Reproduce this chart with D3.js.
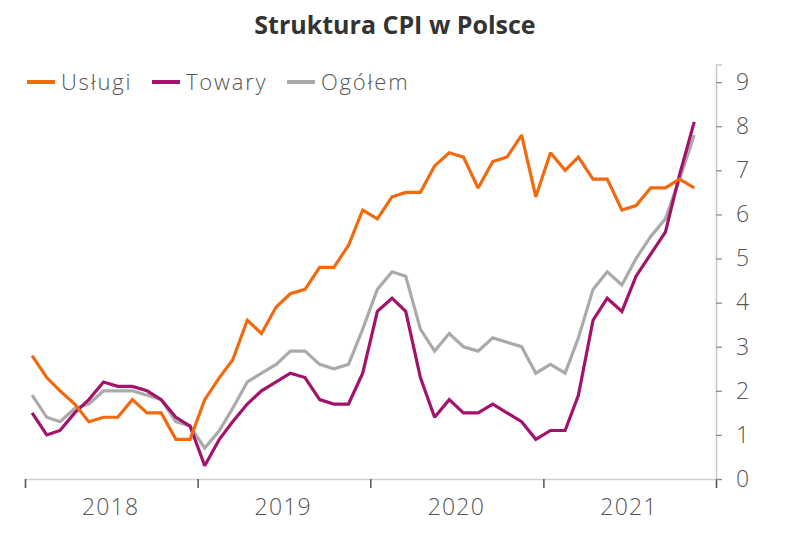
<!DOCTYPE html>
<html><head><meta charset="utf-8">
<script src="https://cdn.jsdelivr.net/npm/d3@7/dist/d3.min.js"></script>
<style>
body{margin:0;background:#fff;}
svg{display:block;}
</style></head>
<body>
<svg id="chart" width="788" height="536"></svg>
<script>
const title = "Struktura CPI w Polsce";
const months = ["2018-01","2018-02","2018-03","2018-04","2018-05","2018-06","2018-07","2018-08","2018-09","2018-10","2018-11","2018-12",
"2019-01","2019-02","2019-03","2019-04","2019-05","2019-06","2019-07","2019-08","2019-09","2019-10","2019-11","2019-12",
"2020-01","2020-02","2020-03","2020-04","2020-05","2020-06","2020-07","2020-08","2020-09","2020-10","2020-11","2020-12",
"2021-01","2021-02","2021-03","2021-04","2021-05","2021-06","2021-07","2021-08","2021-09","2021-10","2021-11"];
const uslugi = [2.8,2.3,2.0,1.7,1.3,1.4,1.4,1.8,1.5,1.5,0.9,0.9,
1.8,2.3,2.7,3.6,3.3,3.9,4.2,4.3,4.8,4.8,5.3,6.1,
5.9,6.4,6.5,6.5,7.1,7.4,7.3,6.6,7.2,7.3,7.8,6.4,
7.4,7.0,7.3,6.8,6.8,6.1,6.2,6.6,6.6,6.8,6.6];
const towary = [1.5,1.0,1.1,1.5,1.8,2.2,2.1,2.1,2.0,1.8,1.4,1.2,
0.3,0.9,1.3,1.7,2.0,2.2,2.4,2.3,1.8,1.7,1.7,2.4,
3.8,4.1,3.8,2.3,1.4,1.8,1.5,1.5,1.7,1.5,1.3,0.9,
1.1,1.1,1.9,3.6,4.1,3.8,4.6,5.1,5.6,6.9,8.1];
const ogolem = [1.9,1.4,1.3,1.6,1.7,2.0,2.0,2.0,1.9,1.8,1.3,1.2,
0.7,1.1,1.6,2.2,2.4,2.6,2.9,2.9,2.6,2.5,2.6,3.4,
4.3,4.7,4.6,3.4,2.9,3.3,3.0,2.9,3.2,3.1,3.0,2.4,
2.6,2.4,3.2,4.3,4.7,4.4,5.0,5.5,5.9,6.8,7.8];
const seriesNames = ["Usługi","Towary","Ogółem"];
const seriesColors = ["#F26A10","#A3126B","#AAAAAA"];
const yearLabels = ["2018","2019","2020","2021"];
const yTicks = [0,1,2,3,4,5,6,7,8,9];

const FONT = "'Open Sans', sans-serif";
const svg = d3.select("#chart");
const parse = d3.timeParse("%Y-%m");
const dates = months.map(parse);
const left = 25, right = 716, bottom = 479;

const x = d3.scaleTime().domain([new Date(2018,0,1), new Date(2022,0,1)]).range([left, right]);
const y = d3.scaleLinear().domain([0, 9.4]).range([bottom, 64.5]);
const mid = d => d3.timeDay.offset(d, 15);

// title
svg.append("text").attr("x", 395).attr("y", 34).attr("text-anchor","middle")
  .attr("font-family",FONT).attr("font-weight","bold").attr("font-size",25)
  .attr("fill","#333").text(title);

// x axis
const yearStarts = yearLabels.map(s => new Date(+s,0,1)).concat([new Date(2022,0,1)]);
const xAxis = d3.axisBottom(x).tickValues(yearStarts).tickSize(9).tickFormat("");
const gx = svg.append("g").attr("transform",`translate(0,${bottom})`).call(xAxis);
gx.select(".domain").attr("stroke","#d0d0d0").attr("stroke-width",1.5);
gx.selectAll(".tick line").attr("stroke","#555").attr("stroke-width",1.5);
svg.append("g").selectAll("text").data(yearLabels).join("text")
  .attr("x", d => x(new Date(+d,6,1)))
  .attr("y", 515).attr("text-anchor","middle")
  .attr("font-family",FONT).attr("font-weight",300).attr("font-size",23)
  .attr("letter-spacing","1.2px").attr("fill","#555")
  .text(d => d);

// y axis
const yAxis = d3.axisRight(y).tickValues(yTicks).tickSize(6).tickPadding(14).tickFormat(d3.format("d"));
const gy = svg.append("g").attr("transform",`translate(${right},0)`).call(yAxis);
gy.select(".domain").attr("stroke","#c8c8c8").attr("stroke-width",1.5);
gy.selectAll(".tick line").attr("stroke","#888").attr("stroke-width",1.2);
gy.selectAll(".tick text").attr("font-family",FONT).attr("font-weight",300).attr("font-size",23).attr("fill","#555");

// lines
const line = d3.line().x((d,i) => x(mid(dates[i]))).y(d => y(d));
const allSeries = [ogolem, towary, uslugi];
const allColors = [seriesColors[2], seriesColors[1], seriesColors[0]];
svg.append("g").selectAll("path").data(allSeries).join("path")
  .attr("d", d => line(d)).attr("fill","none")
  .attr("stroke",(d,i) => allColors[i]).attr("stroke-width",3.2)
  .attr("stroke-linejoin","miter").attr("stroke-miterlimit",2);

// legend
const legendX = [27, 152, 287];
const lg = svg.append("g").selectAll("g").data(seriesNames).join("g")
  .attr("transform",(d,i) => `translate(${legendX[i]},82)`);
lg.append("line").attr("x1",0).attr("x2",28).attr("y1",0).attr("y2",0)
  .attr("stroke",(d,i) => seriesColors[i]).attr("stroke-width",4);
lg.append("text").attr("x",34).attr("y",8).attr("font-family",FONT).attr("font-weight",300)
  .attr("font-size",22).attr("letter-spacing","1.8px").attr("fill","#555").text(d => d);
</script>
</body></html>
